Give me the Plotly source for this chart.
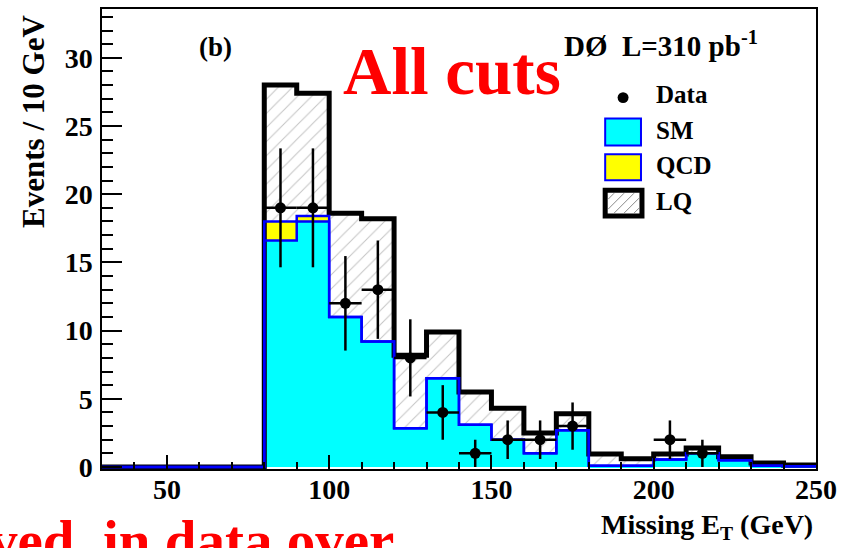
import numpy as np
import plotly.graph_objects as go

# Missing E_T histogram, 10 GeV bins
bin_edges = [30, 40, 50, 60, 70, 80, 90, 100, 110, 120, 130, 140, 150,
             160, 170, 180, 190, 200, 210, 220, 230, 240, 250]
sm = [0, 0, 0, 0, 0, 16.6, 18.0, 11.0, 9.2, 2.85, 6.5, 3.1, 2.0,
      1.0, 2.7, 0.1, 0.1, 0.55, 1.0, 0.5, 0.1, 0.05]
qcd = [0, 0, 0, 0, 0, 1.4, 0.4, 0, 0, 0, 0, 0, 0,
       0, 0, 0, 0, 0, 0, 0, 0, 0]
lq = [0, 0, 0, 0, 0, 10.0, 9.0, 7.6, 9.0, 5.35, 3.4, 2.4, 2.3,
      1.5, 1.2, 0.85, 0.5, 0.4, 0.4, 0.25, 0.2, 0.1]

data_x = [85, 95, 105, 115, 125, 135, 145, 155, 165, 175, 205, 215]
data_n = [19, 19, 12, 13, 8, 4, 1, 2, 2, 3, 2, 1]

x_tick_vals = [50, 100, 150, 200, 250]
y_tick_vals = [0, 5, 10, 15, 20, 25, 30]

edges = np.array(bin_edges, dtype=float)
centers = (edges[:-1] + edges[1:]) / 2
widths = np.diff(edges)
sm_a = np.array(sm)
bkg = sm_a + np.array(qcd)
total = bkg + np.array(lq)

# frame geometry in pixels
W, H = 844, 548
L, R, T, B = 102, 820, 7, 469


def fx(p):
    return (p - L) / (R - L)


def fy(p):
    return (B - p) / (B - T)


def stairs(vals):
    xs = list(edges) + [edges[-1]]
    ys = list(vals) + [vals[-1], 0]
    return xs, ys


FONT = "Liberation Serif"
fig = go.Figure()

# filled stack: SM, QCD on top, LQ hatched on top
fig.add_trace(go.Bar(x=centers, y=sm_a, width=widths, base=0,
                     marker=dict(color="#00FFFF", line=dict(width=0)),
                     showlegend=False))
fig.add_trace(go.Bar(x=centers, y=qcd, width=widths, base=sm_a,
                     marker=dict(color="#FFFF00", line=dict(width=0)),
                     showlegend=False))
fig.add_trace(go.Bar(x=centers, y=lq, width=widths, base=bkg,
                     marker=dict(color="white", line=dict(width=0),
                                 pattern=dict(shape="/", fgcolor="#8a8a8a",
                                              bgcolor="white", size=10,
                                              solidity=0.1)),
                     showlegend=False))

# histogram outlines
for vals, col, lw in [(total, "black", 5), (bkg, "#0000FF", 2.5),
                      (sm_a, "#0000FF", 2.5)]:
    sx, sy = stairs(vals)
    fig.add_trace(go.Scatter(x=sx, y=sy, mode="lines", line_shape="hv",
                             line=dict(color=col, width=lw),
                             showlegend=False, hoverinfo="skip"))

# data points with Poisson errors
fig.add_trace(go.Scatter(
    x=data_x, y=data_n, mode="markers",
    marker=dict(color="black", size=11),
    error_y=dict(type="data", array=np.sqrt(data_n), color="black",
                 thickness=2.5, width=0),
    error_x=dict(type="constant", value=5, color="black",
                 thickness=2.5, width=0),
    showlegend=False))

tickfont = dict(family=FONT, size=28, color="black", weight="bold")
fig.update_layout(
    width=W, height=H,
    margin=dict(l=L, r=W - R, t=T, b=H - B, pad=0),
    paper_bgcolor="white", plot_bgcolor="white",
    barmode="overlay", bargap=0,
    xaxis=dict(range=[30, 250.01], tickvals=x_tick_vals,
               ticks="inside", ticklen=14, tickwidth=2, tickcolor="black",
               minor=dict(dtick=10, tick0=0, ticks="inside", ticklen=7,
                          tickwidth=2, tickcolor="black"),
               showline=True, linecolor="black", linewidth=1.5, mirror=True,
               showgrid=False, zeroline=False, tickfont=tickfont,
               ticklabelstandoff=-5),
    yaxis=dict(range=[-2 / 13.7, 460 / 13.7], tickvals=y_tick_vals,
               ticks="inside", ticklen=20, tickwidth=2, tickcolor="black",
               minor=dict(dtick=1, tick0=0, ticks="inside", ticklen=11,
                          tickwidth=2, tickcolor="black"),
               showline=True, linecolor="black", linewidth=1.5, mirror=True,
               showgrid=False, zeroline=False, tickfont=tickfont,
               ticklabelstandoff=2),
)


def label(text, px, py, size, color="black", xanchor="center", angle=0):
    fig.add_annotation(text=text, x=fx(px), y=fy(py), xref="paper",
                       yref="paper", xanchor=xanchor, yanchor="middle",
                       showarrow=False, textangle=angle,
                       font=dict(family=FONT, size=size, color=color,
                                 weight="bold"))


label("Events / 10 GeV", 33, 120, 31, angle=-90)
label("Missing E<sub>T</sub> (GeV)", 819, 527, 28, xanchor="right")
label("(b)", 216, 45, 27)
label("All cuts", 454, 69, 67, color="#FF0000")
label("D\u00d8\u00a0 L=310 pb<sup>-1</sup>", 565, 42, 29, xanchor="left")
label("ved\u00a0 in data over", -14, 541, 57, color="#FF0000",
      xanchor="left")

# legend
label("Data", 657, 93, 25, xanchor="left")
label("SM", 657, 129, 25, xanchor="left")
label("QCD", 657, 164, 25, xanchor="left")
label("LQ", 657, 200, 25, xanchor="left")


def prect(x0, y0, x1, y1, **kw):
    fig.add_shape(type="rect", xref="paper", yref="paper",
                  x0=fx(x0), x1=fx(x1), y0=fy(y1), y1=fy(y0), **kw)


fig.add_shape(type="circle", xref="paper", yref="paper",
              x0=fx(620.5), x1=fx(631.5), y0=fy(101.5), y1=fy(90.5),
              fillcolor="black", line=dict(width=0))
prect(608, 117, 644, 144, fillcolor="#00FFFF",
      line=dict(color="#0000FF", width=2))
prect(608, 153, 644, 179, fillcolor="#FFFF00",
      line=dict(color="#0000FF", width=2))
prect(608, 189, 645, 215, fillcolor="white",
      line=dict(color="black", width=5))

# hatch inside the LQ legend box
bx0, bx1, by0, by1 = 611, 642, 192, 212
for c in range(bx0 + by0 + 6, bx1 + by1, 10):
    xa = max(bx0, c - by1)
    xb = min(bx1, c - by0)
    if xb > xa:
        fig.add_shape(type="line", xref="paper", yref="paper",
                      x0=fx(xa), y0=fy(c - xa), x1=fx(xb), y1=fy(c - xb),
                      line=dict(color="#8a8a8a", width=1))

fig.write_html("out.html")
